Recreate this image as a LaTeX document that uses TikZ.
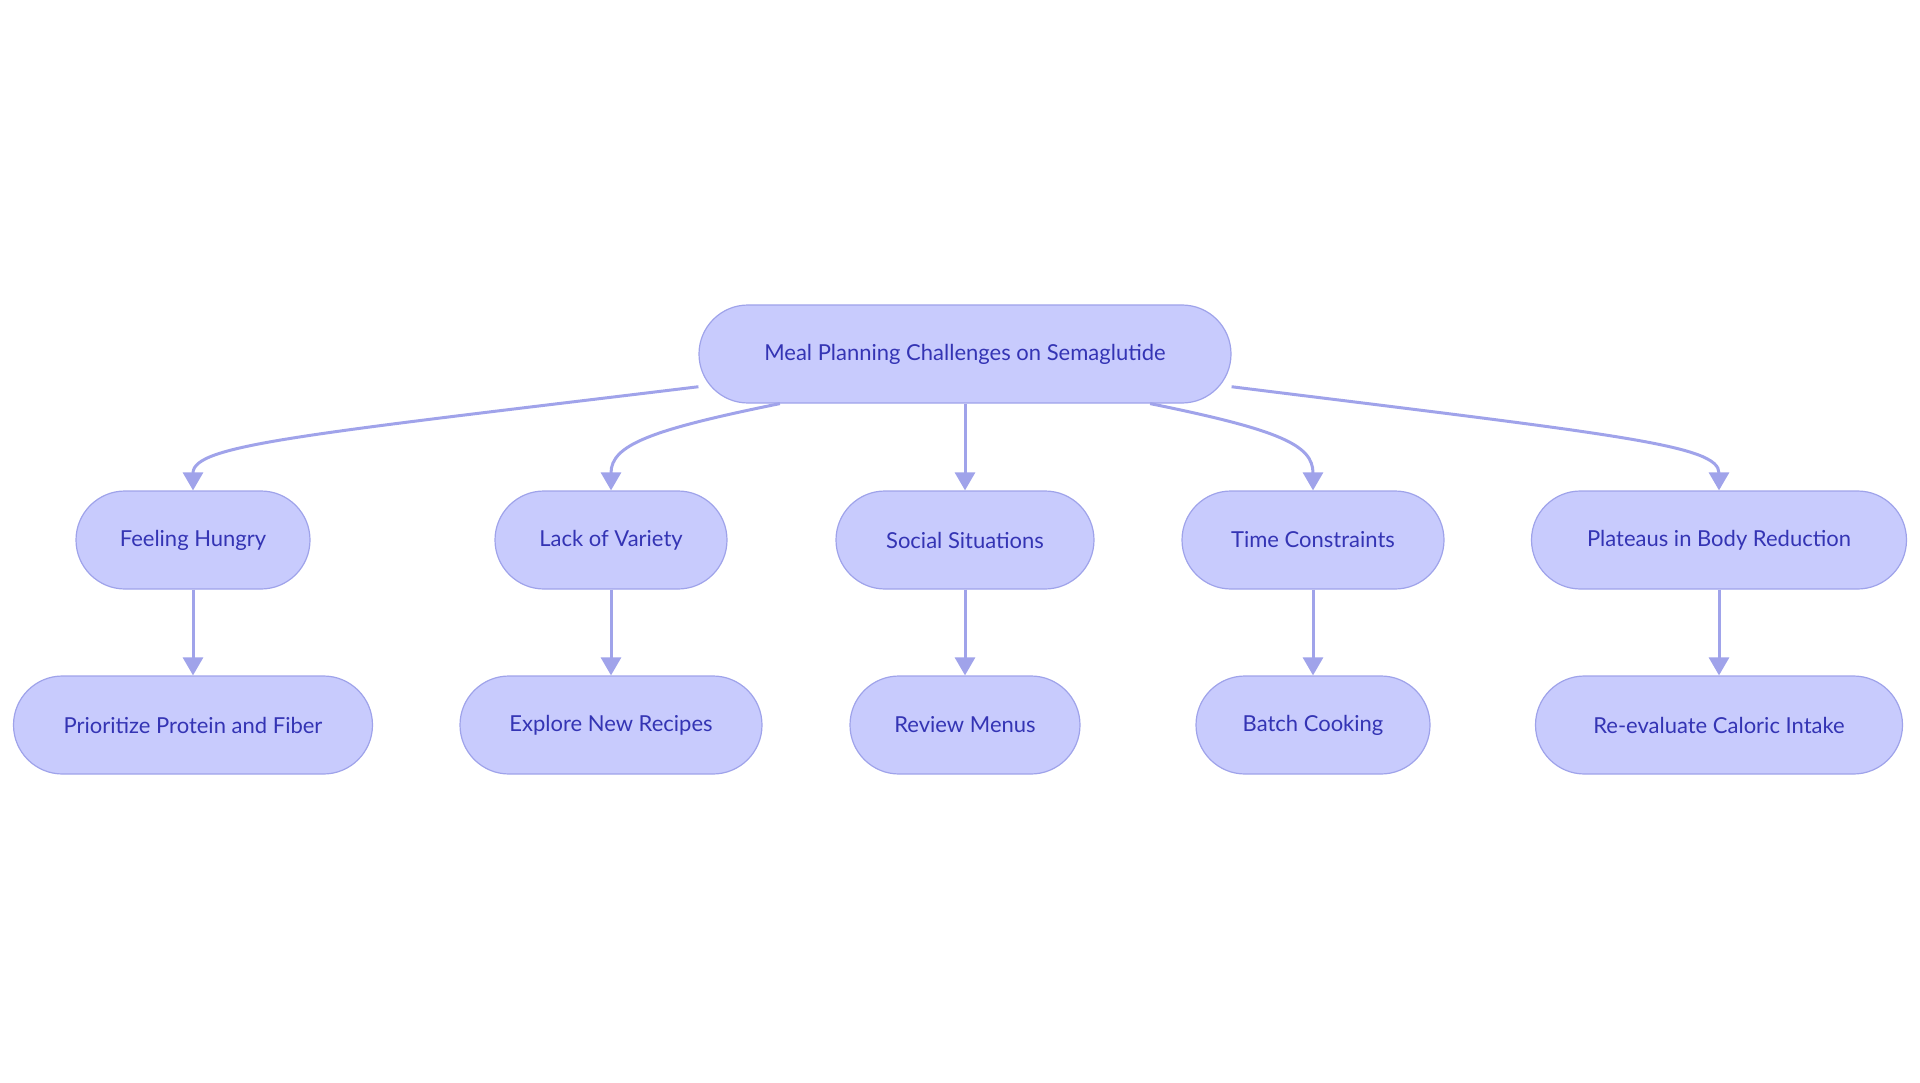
\documentclass[tikz,border=0pt]{standalone}
\usepackage{fontspec}
\setmainfont{Lato}
\usetikzlibrary{arrows.meta}
\definecolor{boxfill}{HTML}{C8CBFD}
\definecolor{boxline}{HTML}{9FA3EA}
\definecolor{boxtext}{HTML}{3434B4}
\definecolor{edgecol}{HTML}{A0A3EA}
\tikzset{
  >={Triangle[width=20pt,length=18pt]}, % default arrow style
  box/.style={draw=boxline, fill=boxfill, text=boxtext, line width=1.2pt,
    rounded corners=49pt, minimum height=98pt, inner sep=0pt,
    font=\fontsize{22}{26}\selectfont},
  edge/.style={->, draw=edgecol, line width=3pt}
}
\begin{document}
\begin{tikzpicture}[x=1pt,y=-1pt]
  \useasboundingbox (0,0) rectangle (1920,1083);
  % root
  \node[box, minimum width=532pt] (root) at (965,354) {Meal Planning Challenges on Semaglutide};
  % challenges
  \node[box, minimum width=234pt] (hungry) at (193,540) {Feeling Hungry};
  \node[box, minimum width=232pt] (variety) at (611,540) {Lack of Variety};
  \node[box, minimum width=258pt] (social) at (965,540) {Social Situations};
  \node[box, minimum width=262pt] (time) at (1313,540) {Time Constraints};
  \node[box, minimum width=375pt] (plateau) at (1719,540) {Plateaus in Body Reduction};
  % strategies
  \node[box, minimum width=359pt] (protein) at (193,725) {Prioritize Protein and Fiber};
  \node[box, minimum width=302pt] (recipes) at (611,725) {Explore New Recipes};
  \node[box, minimum width=230pt] (menus) at (965,725) {Review Menus};
  \node[box, minimum width=234pt] (batch) at (1313,725) {Batch Cooking};
  \node[box, minimum width=367pt] (caloric) at (1719,725) {Re-evaluate Caloric Intake};
  % edges from root
  \draw[edge] (root.187) .. controls (300,435) and (193,445) .. (hungry.north);
  \draw[edge] (root.195) .. controls (650,430) and (611,445) .. (variety.north);
  \draw[edge] (root.south) -- (social.north);
  \draw[edge] (root.-15) .. controls (1280,430) and (1313,445) .. (time.north);
  \draw[edge] (root.-7) .. controls (1620,435) and (1719,445) .. (plateau.north);
  % edges to strategies
  \foreach \a/\b in {hungry/protein, variety/recipes, social/menus, time/batch, plateau/caloric}
    \draw[edge] (\a.south) -- (\b.north);
\end{tikzpicture}
\end{document}
